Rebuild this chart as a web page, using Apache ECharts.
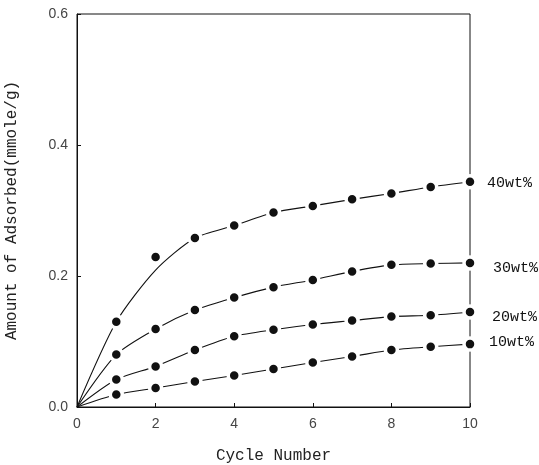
<!DOCTYPE html>
<html>
<head>
<meta charset="utf-8">
<script src="https://cdn.jsdelivr.net/npm/echarts@6/dist/echarts.min.js"></script>
<style>
  html, body { margin: 0; padding: 0; background: #fff; }
  #chart { width: 539px; height: 465px; }
</style>
</head>
<body>
<div id="chart"></div>
<script>
// Cycle numbers (x) and adsorbed amounts (mmole/g) per loading
const cycles = [1, 2, 3, 4, 5, 6, 7, 8, 9, 10];
const wt10 = [0.019, 0.029, 0.039, 0.048, 0.058, 0.068, 0.077, 0.087, 0.092, 0.096];
const wt20 = [0.042, 0.062, 0.087, 0.108, 0.118, 0.126, 0.132, 0.138, 0.140, 0.145];
const wt30 = [0.080, 0.119, 0.148, 0.167, 0.183, 0.194, 0.207, 0.217, 0.219, 0.220];
const wt40 = [0.130, 0.229, 0.258, 0.277, 0.297, 0.307, 0.317, 0.326, 0.336, 0.344];
// fitted curve for 40 wt% over the first cycles (passes below the cycle-2 point)
const fit40Cycles = [0, 1, 2, 3];
const fit40 = [0, 0.130, 0.209, 0.258];
const seriesNames = ['10wt%', '20wt%', '30wt%', '40wt%'];
const xTicks = [0, 2, 4, 6, 8, 10];
const yTicks = [0.0, 0.2, 0.4, 0.6];

const ink = '#111';
const pairs = (xs, ys) => xs.map((x, i) => [x, ys[i]]);

function curveSeries(name, data, labelOffset) {
  return {
    name: name,
    type: 'line',
    data: data,
    smooth: 0.25,
    showSymbol: false,
    symbol: 'none',
    lineStyle: { color: ink, width: 1.1 },
    z: 2,
    silent: true,
    endLabel: {
      show: true,
      formatter: name,
      color: '#111',
      fontFamily: 'Liberation Mono',
      fontSize: 15,
      distance: 16,
      offset: labelOffset
    }
  };
}

function pointSeries(name, ys) {
  return {
    name: name + ' points',
    type: 'scatter',
    data: pairs(cycles, ys),
    symbol: 'circle',
    symbolSize: 12,
    itemStyle: { color: ink, borderColor: '#fff', borderWidth: 3.5, opacity: 1 },
    z: 5,
    silent: true
  };
}

// full lines: origin, then measured points (40 wt% uses the fitted start)
const line10 = [[0, 0]].concat(pairs(cycles, wt10));
const line20 = [[0, 0]].concat(pairs(cycles, wt20));
const line30 = [[0, 0]].concat(pairs(cycles, wt30));
const line40 = pairs(fit40Cycles, fit40).concat(pairs(cycles.slice(3), wt40.slice(3)));

const option = {
  animation: false,
  backgroundColor: '#fff',
  grid: {
    left: 77, right: 69, top: 14, bottom: 58,
    containLabel: false,
    outerBoundsMode: 'none',
    show: true, borderColor: ink, borderWidth: 1
  },
  xAxis: {
    type: 'value',
    min: 0, max: 10, interval: 2,
    name: 'Cycle Number',
    nameLocation: 'middle',
    nameGap: 41,
    nameTextStyle: { fontFamily: 'Liberation Mono', fontSize: 16, color: '#222' },
    axisLine: { show: true, onZero: false, lineStyle: { color: ink, width: 1 } },
    axisTick: { show: true, inside: true, length: 4, lineStyle: { color: ink } },
    axisLabel: {
      fontFamily: 'Liberation Sans', fontSize: 14, color: '#444', margin: 10,
      formatter: v => (xTicks.includes(v) ? String(v) : '')
    },
    splitLine: { show: false }
  },
  yAxis: {
    type: 'value',
    min: 0, max: 0.6, interval: 0.2,
    name: 'Amount of Adsorbed(mmole/g)',
    nameLocation: 'middle',
    nameGap: 57,
    nameRotate: 90,
    nameTextStyle: { fontFamily: 'Liberation Mono', fontSize: 16, color: '#222' },
    axisLine: { show: true, lineStyle: { color: ink, width: 1 } },
    axisTick: { show: true, inside: true, length: 4, lineStyle: { color: ink } },
    axisLabel: {
      fontFamily: 'Liberation Sans', fontSize: 14, color: '#444', margin: 9,
      formatter: v => {
        const t = yTicks.find(k => Math.abs(k - v) < 1e-9);
        return t === undefined ? '' : t.toFixed(1);
      }
    },
    splitLine: { show: false }
  },
  series: [
    curveSeries(seriesNames[0], line10, [3, -2]),
    curveSeries(seriesNames[1], line20, [6, 5]),
    curveSeries(seriesNames[2], line30, [7, 5]),
    curveSeries(seriesNames[3], line40, [1, 1]),
    pointSeries(seriesNames[0], wt10),
    pointSeries(seriesNames[1], wt20),
    pointSeries(seriesNames[2], wt30),
    pointSeries(seriesNames[3], wt40)
  ]
};

const chart = echarts.init(document.getElementById('chart'), null, { renderer: 'canvas' });
chart.setOption(option);
</script>
</body>
</html>
